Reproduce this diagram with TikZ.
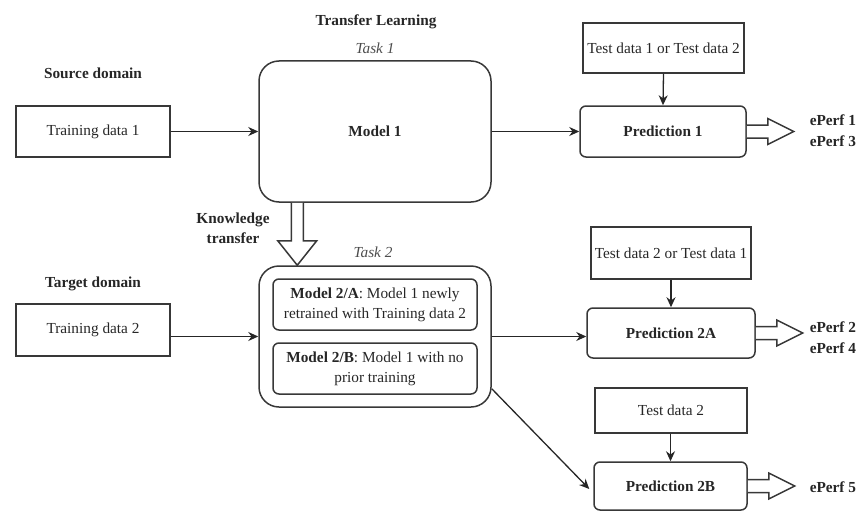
\documentclass[tikz,border=0pt]{standalone}
\usepackage{fontspec}
\setmainfont{Liberation Serif}
\usetikzlibrary{arrows.meta,calc}

\begin{document}
\begin{tikzpicture}[x=1pt,y=-1pt,line width=1.5pt,
  every node/.style={font=\fontsize{15.3}{20}\selectfont,inner sep=0pt,text=black!85},
  databox/.style={draw=black!78,align=center},
  bigbox/.style={draw=black!78,rounded corners=20pt,minimum width=232pt,minimum height=141pt,align=center},
  predbox/.style={draw=black!78,rounded corners=6pt,align=center,font=\fontsize{15.3}{20}\selectfont\bfseries},
  innerbox/.style={draw=black!78,rounded corners=6pt,minimum width=204pt,minimum height=51pt,align=center},
  heading/.style={font=\fontsize{15.3}{20}\selectfont\bfseries,align=center},
  tasklabel/.style={font=\fontsize{15.3}{20}\selectfont\itshape,text=black!70},
  perf/.style={font=\fontsize{15.3}{21}\selectfont\bfseries,align=left,anchor=west},
  link/.style={draw=black!85,line width=1.3pt,-{Stealth[length=10pt,width=9pt]}},
  fatarrow/.pic={\draw[draw=black!78,fill=white,line width=1.5pt]
      (0,-6.5) -- (21,-6.5) -- (21,-13) -- (47,0) -- (21,13) -- (21,6.5) -- (0,6.5);}
]
\useasboundingbox (0,0) rectangle (864,511);

% headings
\node[heading] (tl) at (376,22) {Transfer Learning};
\node[tasklabel] (t1) at (375,48) {Task 1};
\node[heading] (src) at (93,73) {Source domain};
\node[heading] (tgt) at (93,284) {Target domain};
\node[heading] (kt) at (233,228) {Knowledge\\transfer};
\node[tasklabel] (t2) at (373,252) {Task 2};

% task 1
\node[databox,minimum width=154pt,minimum height=51pt] (train1) at (93,131.5) {Training data 1};
\node[bigbox,font=\fontsize{15.3}{20}\selectfont\bfseries] (model1) at (375,131.5) {Model 1};
\node[databox,minimum width=161pt,minimum height=50pt] (test1) at (663.5,48) {Test data 1 or Test data 2};
\node[predbox,minimum width=166pt,minimum height=51pt] (pred1) at (663,131.5) {Prediction 1};
\node[perf] (perf1) at (809,131) {ePerf 1\\ePerf 3};

% task 2
\node[databox,minimum width=154pt,minimum height=52pt] (train2) at (93,330) {Training data 2};
\node[bigbox] (task2) at (375,336.5) {};
\node[innerbox] (m2a) at (375,304.5) {\textbf{Model 2/A}: Model 1 newly\\retrained with Training data 2};
\node[innerbox] (m2b) at (375,368.5) {\textbf{Model 2/B}: Model 1 with no\\prior training};
\node[databox,minimum width=160pt,minimum height=52pt] (test2a) at (671,253) {Test data 2 or Test data 1};
\node[predbox,minimum width=168pt,minimum height=50pt] (pred2a) at (671,333) {Prediction 2A};
\node[perf] (perf2) at (809,338) {ePerf 2\\ePerf 4};
\node[databox,minimum width=152pt,minimum height=45pt] (test2b) at (671,410.5) {Test data 2};
\node[predbox,minimum width=153pt,minimum height=48pt] (pred2b) at (670.5,486) {Prediction 2B};
\node[perf] (perf5) at (809,487) {ePerf 5};

% connectors
\draw[link] (train1.east) -- (model1.west);
\draw[link] (model1.east) -- (pred1.west);
\draw[link] (test1.south) -- (pred1.north);
\draw[link] (train2.east |- task2.west) -- (task2.west);
\draw[link] (task2.east) -- (pred2a.west |- task2.east);
\draw[link] (test2a.south) -- (pred2a.north);
\draw[link] (test2b.south -| pred2b.north) -- (pred2b.north);
\coordinate (diagstart) at ($(task2.south east)+(0,-19)$);
\coordinate (diagend) at ($(pred2b.west)+(-4,3)$);
\draw[link] (diagstart) -- (diagend);

% hollow output arrows
\pic at (pred1.east) {fatarrow};
\pic at (pred2a.east) {fatarrow};
\pic at (pred2b.east) {fatarrow};

% knowledge transfer arrow
\coordinate (ktop) at ($(model1.south west)+(39,0)$);
\coordinate (ktip) at (ktop |- task2.north);
\draw[draw=black!78,fill=white,line join=miter]
  ($(ktop)+(-6,0)$) -- ($(ktop)+(-6,38)$) -- ($(ktop)+(-19.5,38)$) -- (ktip)
  -- ($(ktop)+(19.5,38)$) -- ($(ktop)+(6,38)$) -- ($(ktop)+(6,0)$);
\end{tikzpicture}
\end{document}
